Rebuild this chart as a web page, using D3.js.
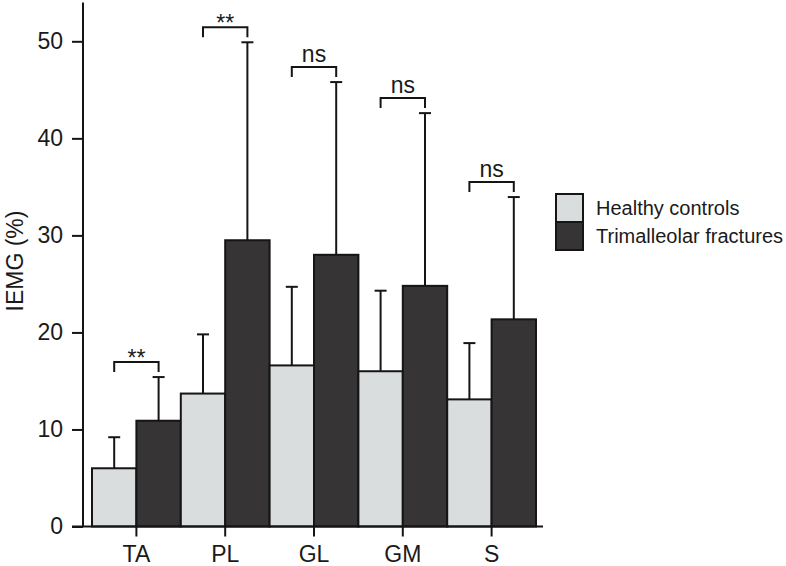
<!DOCTYPE html>
<html>
<head>
<meta charset="utf-8">
<script src="https://cdn.jsdelivr.net/npm/d3@7"></script>
<style>
  body { margin: 0; background: #fff; }
  svg { display: block; }
  text { font-family: "Liberation Sans", Arial, sans-serif; fill: #1a1a1a; }
</style>
</head>
<body>
<svg id="chart" width="786" height="566"></svg>
<script>
const categories = ["TA", "PL", "GL", "GM", "S"];
const seriesNames = ["Healthy controls", "Trimalleolar fractures"];
const healthyMean = [6.0, 13.7, 16.6, 16.0, 13.1];
const healthySD   = [3.2, 6.1, 8.1, 8.3, 5.8];
const fractureMean = [10.9, 29.5, 28.0, 24.8, 21.35];
const fractureSD   = [4.5, 20.4, 17.8, 17.8, 12.6];
const significance = ["**", "**", "ns", "ns", "ns"];
const yTicks = [0, 10, 20, 30, 40, 50];

const colors = ["#dadddd", "#363435"];
const svg = d3.select("#chart");

const y = d3.scaleLinear().domain([0, 54]).range([526.5, 2.5]);
const x0 = d3.scaleBand().domain(categories).range([92, 536]).padding(0);
const x1 = d3.scaleBand().domain(seriesNames).range([0, x0.bandwidth()]).padding(0);

const data = categories.map((c, i) => ({
  cat: c,
  sig: significance[i],
  vals: [
    { s: seriesNames[0], m: healthyMean[i], sd: healthySD[i] },
    { s: seriesNames[1], m: fractureMean[i], sd: fractureSD[i] }
  ]
}));

const stroke = "#151515";

// bars
const g = svg.append("g");
const groups = g.selectAll("g.grp").data(data).join("g")
  .attr("transform", d => `translate(${x0(d.cat)},0)`);

// error bars (drawn before bars so the line starts at bar top)
groups.selectAll("g.err").data(d => d.vals).join("g").each(function(v) {
  const cx = x1(v.s) + x1.bandwidth() / 2;
  const sel = d3.select(this);
  sel.append("line").attr("x1", cx).attr("x2", cx)
    .attr("y1", y(v.m)).attr("y2", y(v.m + v.sd))
    .attr("stroke", stroke).attr("stroke-width", 2);
  sel.append("line").attr("x1", cx - 6).attr("x2", cx + 6)
    .attr("y1", y(v.m + v.sd)).attr("y2", y(v.m + v.sd))
    .attr("stroke", stroke).attr("stroke-width", 2);
});

groups.selectAll("rect").data(d => d.vals).join("rect")
  .attr("x", v => x1(v.s))
  .attr("width", x1.bandwidth())
  .attr("y", v => y(v.m))
  .attr("height", v => y(0) - y(v.m))
  .attr("fill", (v, i) => colors[i])
  .attr("stroke", stroke).attr("stroke-width", 2);

// significance brackets
groups.each(function(d) {
  const sel = d3.select(this);
  const xa = x1(seriesNames[0]) + x1.bandwidth() / 2;
  const xb = x1(seriesNames[1]) + x1.bandwidth() / 2;
  const top = y(d.vals[1].m + d.vals[1].sd) - 15;
  sel.append("path")
    .attr("d", `M${xa},${top + 10}V${top}H${xb}V${top + 10}`)
    .attr("fill", "none").attr("stroke", stroke).attr("stroke-width", 2);
  sel.append("text")
    .attr("x", (xa + xb) / 2)
    .attr("y", d.sig === "**" ? top + 4 : top - 5)
    .attr("text-anchor", "middle")
    .attr("font-size", 23)
    .text(d.sig);
});

// y axis
const yAxis = d3.axisLeft(y).tickValues(yTicks).tickSize(11).tickPadding(9).tickFormat(d3.format("d"));
const ya = svg.append("g").attr("transform", "translate(83,0)").call(yAxis);
ya.select(".domain").attr("d", `M0,${y(54)}V${y(0)}`).attr("stroke", stroke).attr("stroke-width", 2);
ya.selectAll(".tick line").attr("stroke", stroke).attr("stroke-width", 2);
ya.selectAll(".tick text").attr("font-size", 23).attr("font-family", "Liberation Sans, Arial, sans-serif").attr("fill", "#1a1a1a");

// x axis
const xAxis = d3.axisBottom(x0).tickSize(10).tickPadding(9).tickSizeOuter(0);
const xa = svg.append("g").attr("transform", `translate(0,${y(0)})`).call(xAxis);
xa.select(".domain").attr("d", "M72,0H543").attr("stroke", stroke).attr("stroke-width", 2);
xa.selectAll(".tick line").attr("stroke", stroke).attr("stroke-width", 2);
xa.selectAll(".tick text").attr("font-size", 23).attr("font-family", "Liberation Sans, Arial, sans-serif").attr("fill", "#1a1a1a");

// y label
svg.append("text")
  .attr("transform", "translate(23,261) rotate(-90)")
  .attr("text-anchor", "middle")
  .attr("font-size", 23)
  .text("IEMG (%)");

// legend
const lg = svg.append("g").attr("transform", "translate(556,194)");
seriesNames.forEach((s, i) => {
  lg.append("rect").attr("x", 0).attr("y", i * 28).attr("width", 27).attr("height", 28)
    .attr("fill", colors[i]).attr("stroke", stroke).attr("stroke-width", 2);
  lg.append("text").attr("x", 40).attr("y", i * 28 + 14).attr("dy", "0.35em")
    .attr("font-size", 20).text(s);
});
</script>
</body>
</html>
